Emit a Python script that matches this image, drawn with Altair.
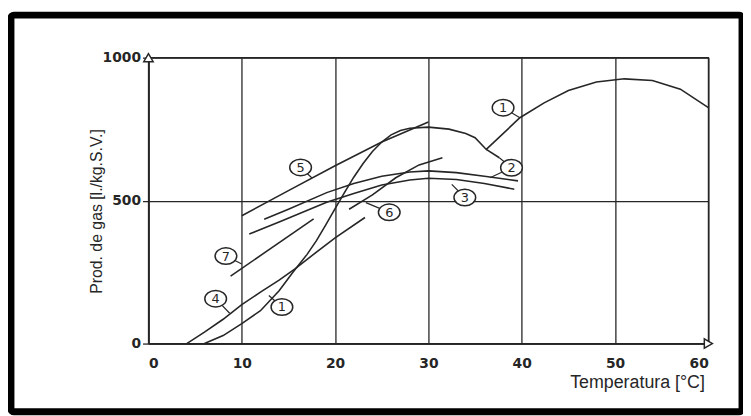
import altair as alt
import pandas as pd

# ---- data ----
c1_x = [6, 8, 10, 12, 14, 15.5, 17, 18, 19, 20, 21, 22, 23, 24, 25, 26, 27, 28, 30, 32.2, 34, 35, 36.2, 39.8, 42.4, 45, 48, 51, 54, 57, 60]
c1_y = [0, 28, 70, 115, 185, 250, 312, 360, 415, 472, 528, 582, 630, 672, 705, 730, 745, 753, 757, 750, 735, 720, 679, 790, 842, 885, 915, 926, 920, 890, 825]
c2tail_x = [36.2, 37.6]
c2tail_y = [679, 650]
c2_x = [12.4, 15, 19.1, 22, 25, 28, 30, 33, 36, 39.6]
c2_y = [435, 470, 528, 560, 585, 600, 604, 598, 585, 569]
c3_x = [10.8, 14, 19.1, 22, 25, 28, 30, 33, 36, 39.2]
c3_y = [383, 425, 494, 525, 555, 572, 578, 574, 560, 540]
c4_x = [4.1, 6, 8, 10, 12, 14, 15.7, 18, 20, 23.2]
c4_y = [0, 40, 85, 136, 180, 222, 261, 320, 370, 441]
c5_x = [10, 15, 20, 25, 30]
c5_y = [447, 535, 622, 705, 775]
c6_x = [21.5, 24, 26.5, 29, 31.5]
c6_y = [470, 520, 580, 625, 650]
c7_x = [8.8, 17.7]
c7_y = [236, 436]

label_txt = ["1", "1", "2", "3", "4", "5", "6", "7"]
label_x = [38, 14.3, 38.9, 33.9, 7.2, 16.3, 25.8, 8.3]
label_y = [825, 128, 615, 511, 157, 616, 459, 306]
# leader end points (on the curves)
lead_from = [0, 1, 2, 2, 3, 4, 5, 6, 7]
lead_x = [39.8, 12.9, 37.6, 36.6, 32.5, 8.7, 17.5, 23.3, 10]
lead_y = [790, 168, 650, 580, 557, 106, 580, 493, 278]

x_ticks = [0, 10, 20, 30, 40, 50, 60]
y_ticks = [0, 500, 1000]

# ---- build tables ----
rows = []
for name, xs, ys in [("1", c1_x, c1_y), ("2t", c2tail_x, c2tail_y), ("2", c2_x, c2_y),
                     ("3", c3_x, c3_y), ("4", c4_x, c4_y), ("5", c5_x, c5_y),
                     ("6", c6_x, c6_y), ("7", c7_x, c7_y)]:
    for i, (a, b) in enumerate(zip(xs, ys)):
        rows.append({"s": name, "i": i, "x": a, "y": b})
curves = pd.DataFrame(rows)

lrows = []
for k, (li, ex, ey) in enumerate(zip(lead_from, lead_x, lead_y)):
    lrows.append({"s": f"L{k}", "i": 0, "x": label_x[li], "y": label_y[li]})
    lrows.append({"s": f"L{k}", "i": 1, "x": ex, "y": ey})
leaders = pd.DataFrame(lrows)

labels = pd.DataFrame({"t": label_txt, "x": label_x, "y": label_y})

W, H = 566, 289
xs = alt.Scale(domain=[0, 60], nice=False)
ys = alt.Scale(domain=[0, 1000], nice=False)
ink = "#262626"

base_x = alt.X("x:Q", scale=xs,
               axis=alt.Axis(values=x_ticks, title="Temperatura [°C]", grid=True, format="d",
                             gridColor=ink, gridWidth=1.3, ticks=False,
                             labelPadding=13, labelFontSize=14, labelFont="DejaVu Sans",
                             labelFontWeight="bold", labelColor=ink,
                             domainColor=ink, domainWidth=1.6,
                             titleFont="Liberation Sans", titleFontSize=18,
                             titleFontWeight="normal", titleColor=ink,
                             titleAnchor="end", titleAlign="right",
                             titleX=W - 4, titleY=30))
base_y = alt.Y("y:Q", scale=ys,
               axis=alt.Axis(values=y_ticks, title="Prod. de gas [l./kg.S.V.]", grid=True,
                             format="d",
                             gridColor=ink, gridWidth=1.3, tickSize=6, tickColor=ink,
                             tickWidth=1.3, labelPadding=2, labelFontSize=14,
                             labelFont="DejaVu Sans", labelFontWeight="bold", labelColor=ink,
                             domainColor=ink, domainWidth=1.6,
                             titleFont="Liberation Sans", titleFontSize=16,
                             titleFontWeight="normal", titleColor=ink,
                             titleX=-52, titleY=155, titleBaseline="middle", titleAngle=270))

lines = alt.Chart(curves).mark_line(color=ink, strokeWidth=1.6).encode(
    x=base_x, y=base_y, detail="s:N", order="i:Q")

lead = alt.Chart(leaders).mark_line(color=ink, strokeWidth=1.2).encode(
    x="x:Q", y="y:Q", detail="s:N", order="i:Q")

ellipse = "M -1 0 A 1 0.76 0 1 0 1 0 A 1 0.76 0 1 0 -1 0 Z"
circ = alt.Chart(labels).mark_point(shape=ellipse, size=480, filled=True, fill="white",
                                    stroke=ink, strokeWidth=1.5, opacity=1).encode(
    x="x:Q", y="y:Q")
txt = alt.Chart(labels).mark_text(font="DejaVu Sans", fontSize=13, color=ink, dy=0.5).encode(
    x="x:Q", y="y:Q", text="t:N")

arrow_df = pd.DataFrame({"x": [0, 60], "y": [1000, 0], "sh": ["triangle-up", "triangle-right"]})
arrows = alt.Chart(arrow_df).mark_point(size=90, filled=True, fill="white", stroke=ink,
                                        strokeWidth=1.5, opacity=1).encode(
    x="x:Q", y="y:Q", shape=alt.Shape("sh:N", scale=None, legend=None))

frame = alt.Chart(pd.DataFrame({"a": [0]})).mark_rect(
    fill=None, stroke="black", strokeWidth=7, cornerRadius=3).encode(
    x=alt.value(-139), x2=alt.value(600), y=alt.value(-43), y2=alt.value(358))

chart = alt.layer(lines, lead, circ, txt, arrows, frame).properties(
    width=W, height=H,
    padding={"left": 142, "top": 48, "right": 35, "bottom": 71},
    autosize=alt.AutoSizeParams(type="none"),
    background="white",
).configure_view(stroke=ink, strokeWidth=1.4)

chart.save("out.html", embed_options={"renderer": "svg", "actions": False})
